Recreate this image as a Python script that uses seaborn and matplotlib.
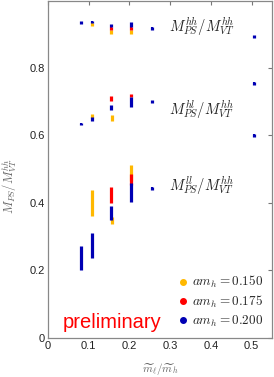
import matplotlib
matplotlib.use("Agg")
import matplotlib.pyplot as plt
import seaborn as sns
import numpy as np
import pandas as pd

# data: x = m_l/m_h, y = M_PS/M_VT^hh, err = half error bar, amh = a*m_h
hh_x = [0.080, 0.107, 0.107, 0.155, 0.155, 0.155, 0.205, 0.205, 0.205, 0.255, 0.505]
hh_y = [0.934, 0.929, 0.936, 0.906, 0.917, 0.925, 0.906, 0.917, 0.928, 0.917, 0.893]
hh_err = [0.004, 0.004, 0.004, 0.006, 0.004, 0.005, 0.006, 0.004, 0.007, 0.005, 0.005]
hh_amh = [0.200, 0.150, 0.200, 0.150, 0.175, 0.200, 0.150, 0.175, 0.200, 0.200, 0.200]

hl_x = [0.080, 0.107, 0.107, 0.158, 0.155, 0.155, 0.205, 0.205, 0.255, 0.505, 0.505]
hl_y = [0.634, 0.657, 0.648, 0.652, 0.710, 0.683, 0.718, 0.699, 0.700, 0.754, 0.600]
hl_err = [0.004, 0.006, 0.006, 0.008, 0.007, 0.008, 0.005, 0.015, 0.005, 0.005, 0.005]
hl_amh = [0.200, 0.150, 0.200, 0.150, 0.175, 0.200, 0.175, 0.200, 0.200, 0.200, 0.200]

ll_x = [0.080, 0.107, 0.107, 0.158, 0.155, 0.155, 0.205, 0.205, 0.205, 0.255]
ll_y = [0.237, 0.399, 0.274, 0.348, 0.423, 0.370, 0.488, 0.470, 0.432, 0.443]
ll_err = [0.036, 0.039, 0.038, 0.011, 0.024, 0.021, 0.023, 0.016, 0.028, 0.005]
ll_amh = [0.200, 0.150, 0.200, 0.150, 0.175, 0.200, 0.150, 0.175, 0.200, 0.200]

amh_levels = [0.150, 0.175, 0.200]
amh_colors = ["#FFB800", "#FF0000", "#0000B4"]

channel_labels = [r"$M_{PS}^{hh}/M_{VT}^{hh}$", r"$M_{PS}^{hl}/M_{VT}^{hh}$", r"$M_{PS}^{ll}/M_{VT}^{hh}$"]
label_y = [0.922, 0.677, 0.450]

frames = []
for name, xs, ys, es, ams in [("hh", hh_x, hh_y, hh_err, hh_amh),
                              ("hl", hl_x, hl_y, hl_err, hl_amh),
                              ("ll", ll_x, ll_y, ll_err, ll_amh)]:
    frames.append(pd.DataFrame({"x": xs, "y": ys, "err": es, "amh": ams, "ch": name}))
df = pd.concat(frames, ignore_index=True)

sns.set_style("white")
plt.rcParams["mathtext.fontset"] = "cm"
plt.rcParams["font.family"] = ["Liberation Sans", "DejaVu Sans"]

fig = plt.figure(figsize=(2.74, 3.77), dpi=100)
ax = fig.add_axes([0.175, 0.104, 0.818, 0.893])

palette = dict(zip(amh_levels, amh_colors))

# error bars, drawn per amh so blue ends up on top
for lvl in amh_levels:
    sub = df[df["amh"] == lvl]
    k = amh_levels.index(lvl)
    ax.vlines(sub["x"], sub["y"] - sub["err"], sub["y"] + sub["err"],
              color=palette[lvl], lw=2.3, zorder=2 + k)
    sns.scatterplot(data=sub, x="x", y="y", color=palette[lvl], marker="s",
                    s=4, linewidth=0, ax=ax, zorder=2.5 + k, legend=False)

for lab, yl in zip(channel_labels, label_y):
    ax.text(0.296, yl, lab, fontsize=10.5, color="#222222", ha="left", va="center")

# legend
handles = [plt.Line2D([], [], ls="none", marker="o", ms=4, color=c) for c in amh_colors]
labels = [r"$am_h = %.3f$" % v for v in amh_levels]
ax.legend(handles, labels, loc="lower right", frameon=False, fontsize=9.5,
          handletextpad=0.1, labelspacing=0.25, borderaxespad=0.3, handlelength=1.2)

ax.text(0.037, 0.045, "preliminary", color="#FF0000", fontsize=14.5, ha="left", va="center")

ax.set_xlim(0, 0.55)
ax.set_ylim(0, 0.998)
ax.set_xticks([0, 0.1, 0.2, 0.3, 0.4, 0.5])
ax.set_xticklabels(["0", "0.1", "0.2", "0.3", "0.4", "0.5"])
ax.set_yticks([0, 0.2, 0.4, 0.6, 0.8])
ax.set_yticklabels(["0", "0.2", "0.4", "0.6", "0.8"])
ax.tick_params(direction="in", top=True, right=True, length=3, width=0.8,
               color="#777777", labelsize=8, labelcolor="#222222", pad=2)
for sp in ax.spines.values():
    sp.set_color("#888888")
    sp.set_linewidth(0.9)

ax.set_xlabel(r"$\widetilde{m}_\ell/\widetilde{m}_h$", fontsize=8, color="#666666")
ax.set_ylabel(r"$M_{PS}/M_{VT}^{hh}$", fontsize=9, color="#666666")
ax.xaxis.set_label_coords(0.5, -0.07)
ax.yaxis.set_label_coords(-0.13, 0.45)

fig.savefig("out.png", dpi=100)
